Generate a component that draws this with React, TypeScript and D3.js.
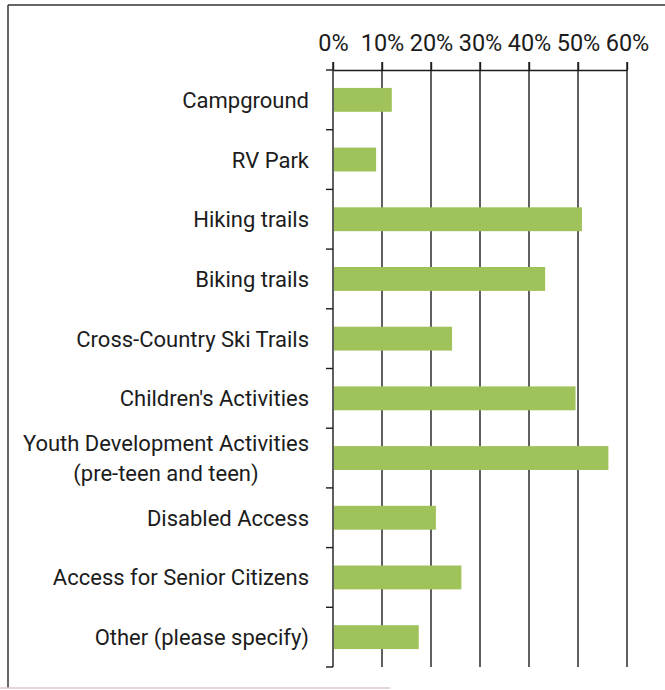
import React, { useEffect, useRef } from "react";
import * as d3 from "d3";

const categories = [
  "Campground",
  "RV Park",
  "Hiking trails",
  "Biking trails",
  "Cross-Country Ski Trails",
  "Children's Activities",
  "Youth Development Activities\n(pre-teen and teen)",
  "Disabled Access",
  "Access for Senior Citizens",
  "Other (please specify)",
];
const values = [0.12, 0.088, 0.508, 0.433, 0.243, 0.495, 0.562, 0.21, 0.262, 0.175];
const xTicks = [0, 0.1, 0.2, 0.3, 0.4, 0.5, 0.6];

const W = 665;
const H = 690;

const App: React.FC = () => {
  const svgRef = useRef<SVGSVGElement | null>(null);

  useEffect(() => {
    if (!svgRef.current) return;
    const svg = d3.select(svgRef.current);
    svg.selectAll("*").remove();

    const left = 333;
    const right = 627;
    const top = 70;
    const bottom = 667;
    const labelRight = 309;
    const ink = "#1c1c1c";
    const font = "Roboto, 'Liberation Sans', Arial, sans-serif";

    // frame (scanned page edges)
    svg.append("line").attr("x1", 8).attr("x2", W).attr("y1", 5).attr("y2", 5)
      .attr("stroke", "#333").attr("stroke-width", 1.5);
    svg.append("line").attr("x1", 8).attr("x2", 8).attr("y1", 5).attr("y2", 688)
      .attr("stroke", "#333").attr("stroke-width", 1.5);
    svg.append("line").attr("x1", 0).attr("x2", 390).attr("y1", 688).attr("y2", 688)
      .attr("stroke", "#d9c9c9").attr("stroke-width", 1.5);

    const x = d3.scaleLinear().domain([0, 0.6]).range([left, right]);
    const y = d3
      .scaleBand<string>()
      .domain(categories)
      .range([top, bottom])
      .paddingInner(0.6)
      .paddingOuter(0.3);

    // vertical gridlines (start above the axis line like tick marks)
    svg.append("g")
      .selectAll("line")
      .data(xTicks)
      .join("line")
      .attr("x1", (d) => x(d))
      .attr("x2", (d) => x(d))
      .attr("y1", top - 8)
      .attr("y2", bottom)
      .attr("stroke", ink)
      .attr("stroke-width", 1.4);

    // top axis
    const xAxis = d3
      .axisTop(x)
      .tickValues(xTicks)
      .tickFormat(d3.format(".0%"))
      .tickSize(8)
      .tickSizeOuter(0)
      .tickPadding(11);
    const gx = svg.append("g").attr("transform", `translate(0,${top})`).call(xAxis);
    gx.select(".domain").attr("stroke", ink).attr("stroke-width", 1.4);
    gx.selectAll(".tick line").attr("stroke", ink).attr("stroke-width", 1.4);
    gx.selectAll(".tick text")
      .attr("fill", ink)
      .style("font-family", font)
      .style("font-size", "23.5px");

    // category boundary ticks on the left
    const step = y.step();
    const bounds = d3.range(categories.length + 1).map((i) => top + i * step);
    svg.append("g")
      .selectAll("line")
      .data(bounds)
      .join("line")
      .attr("x1", left - 7)
      .attr("x2", left)
      .attr("y1", (d) => d)
      .attr("y2", (d) => d)
      .attr("stroke", ink)
      .attr("stroke-width", 1.4);

    // bars
    svg.append("g")
      .selectAll("rect")
      .data(categories)
      .join("rect")
      .attr("x", x(0) + 1)
      .attr("y", (d) => y(d)!)
      .attr("width", (d, i) => x(values[i]) - x(0) - 1)
      .attr("height", y.bandwidth())
      .attr("fill", "#a0c25a");

    // category labels (multi-line ones are centred as a block, right-aligned)
    const labels = svg.append("g")
      .selectAll("text")
      .data(categories)
      .join("text")
      .attr("y", (d) => y(d)! + y.bandwidth() / 2)
      .attr("fill", ink)
      .style("font-family", font)
      .style("font-size", "22px");

    labels.each(function (d) {
      const lines = d.split("\n");
      const lh = 30;
      const t = d3.select(this);
      if (lines.length === 1) {
        t.attr("text-anchor", "end");
        t.append("tspan").attr("x", labelRight).attr("dy", 8).text(d);
        return;
      }
      t.attr("text-anchor", "middle");
      const spans = lines.map((ln, i) =>
        t.append("tspan")
          .attr("dy", i === 0 ? -((lines.length - 1) * lh) / 2 + 8 : lh)
          .text(ln)
      );
      const maxW = d3.max(spans, (s) => (s.node() as SVGTSpanElement).getComputedTextLength()) || 0;
      spans.forEach((s) => s.attr("x", labelRight - maxW / 2));
    });
  }, []);

  return (
    <svg
      ref={svgRef}
      width={W}
      height={H}
      style={{ position: "absolute", left: 0, top: 0, background: "#fff" }}
    />
  );
};

export default App;
